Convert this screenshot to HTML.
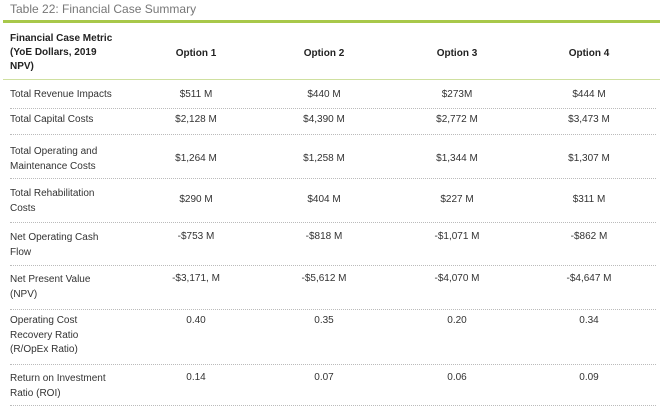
<!DOCTYPE html>
<html><head><meta charset="utf-8"><style>
body{margin:0;width:660px;height:410px;background:#fff;font-family:"Liberation Sans",sans-serif;position:relative;overflow:hidden;color:#333}
.t{position:absolute;font-size:10px;line-height:14px;white-space:nowrap}
.c{transform:translateX(-50%)}
.b{font-weight:bold;color:#222}
.sep{position:absolute;left:10px;width:646px;border-top:1px dotted #bbb}
</style></head><body>
<div class="t" style="left:10px;top:2px;font-size:12px;color:#777">Table 22: Financial Case Summary</div>
<div style="position:absolute;left:3px;top:20px;width:657px;height:3px;background:#a8c84a"></div>
<div class="t b" style="left:10px;top:32px">Financial Case Metric<br>(YoE Dollars, 2019<br>NPV)</div>
<div class="t b c" style="left:196px;top:47px">Option 1</div>
<div class="t b c" style="left:324px;top:47px">Option 2</div>
<div class="t b c" style="left:457px;top:47px">Option 3</div>
<div class="t b c" style="left:589px;top:47px">Option 4</div>
<div style="position:absolute;left:3px;top:79px;width:657px;height:1px;background:#cfe0a0"></div>

<div class="t" style="left:10px;top:88px">Total Revenue Impacts</div>
<div class="t c" style="left:196px;top:88px">$511 M</div><div class="t c" style="left:324px;top:88px">$440 M</div><div class="t c" style="left:457px;top:88px">$273M</div><div class="t c" style="left:589px;top:88px">$444 M</div>
<div class="sep" style="top:108px"></div>

<div class="t" style="left:10px;top:113px">Total Capital Costs</div>
<div class="t c" style="left:196px;top:113px">$2,128 M</div><div class="t c" style="left:324px;top:113px">$4,390 M</div><div class="t c" style="left:457px;top:113px">$2,772 M</div><div class="t c" style="left:589px;top:113px">$3,473 M</div>
<div class="sep" style="top:134px"></div>

<div class="t" style="left:10px;top:144px;line-height:15px">Total Operating and<br>Maintenance Costs</div>
<div class="t c" style="left:196px;top:152px">$1,264 M</div><div class="t c" style="left:324px;top:152px">$1,258 M</div><div class="t c" style="left:457px;top:152px">$1,344 M</div><div class="t c" style="left:589px;top:152px">$1,307 M</div>
<div class="sep" style="top:178px"></div>

<div class="t" style="left:10px;top:186px;line-height:15px">Total Rehabilitation<br>Costs</div>
<div class="t c" style="left:196px;top:193px">$290 M</div><div class="t c" style="left:324px;top:193px">$404 M</div><div class="t c" style="left:457px;top:193px">$227 M</div><div class="t c" style="left:589px;top:193px">$311 M</div>
<div class="sep" style="top:222px"></div>

<div class="t" style="left:10px;top:230px;line-height:15px">Net Operating Cash<br>Flow</div>
<div class="t c" style="left:196px;top:230px">-$753 M</div><div class="t c" style="left:324px;top:230px">-$818 M</div><div class="t c" style="left:457px;top:230px">-$1,071 M</div><div class="t c" style="left:589px;top:230px">-$862 M</div>
<div class="sep" style="top:265px"></div>

<div class="t" style="left:10px;top:272px;line-height:15px">Net Present Value<br>(NPV)</div>
<div class="t c" style="left:196px;top:272px">-$3,171, M</div><div class="t c" style="left:324px;top:272px">-$5,612 M</div><div class="t c" style="left:457px;top:272px">-$4,070 M</div><div class="t c" style="left:589px;top:272px">-$4,647 M</div>
<div class="sep" style="top:309px"></div>

<div class="t" style="left:10px;top:314px;line-height:14.5px">Operating Cost<br>Recovery Ratio<br>(R/OpEx Ratio)</div>
<div class="t c" style="left:196px;top:314px">0.40</div><div class="t c" style="left:324px;top:314px">0.35</div><div class="t c" style="left:457px;top:314px">0.20</div><div class="t c" style="left:589px;top:314px">0.34</div>
<div class="sep" style="top:364px"></div>

<div class="t" style="left:10px;top:371px;line-height:15px">Return on Investment<br>Ratio (ROI)</div>
<div class="t c" style="left:196px;top:371px">0.14</div><div class="t c" style="left:324px;top:371px">0.07</div><div class="t c" style="left:457px;top:371px">0.06</div><div class="t c" style="left:589px;top:371px">0.09</div>
<div class="sep" style="top:405px"></div>
</body></html>
